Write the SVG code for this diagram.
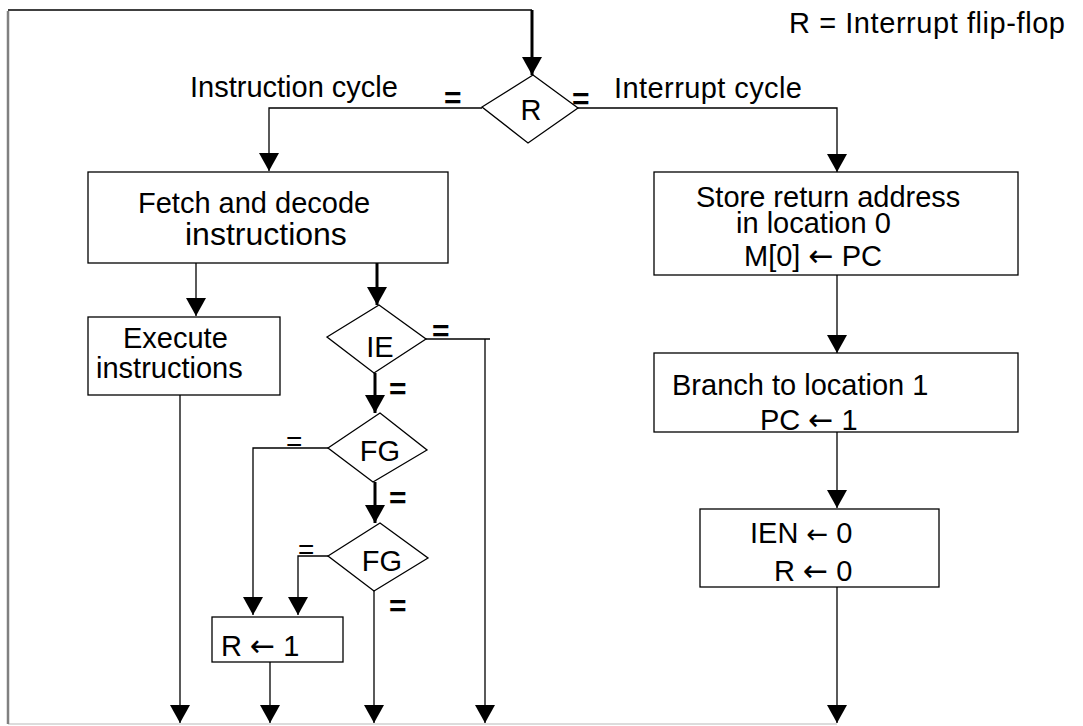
<svg xmlns="http://www.w3.org/2000/svg" width="1083" height="726" viewBox="0 0 1083 726">
<style>
text{font-family:"Liberation Sans",Arial,sans-serif;font-size:29px;fill:#000}
.arr{font-family:"DejaVu Sans",sans-serif;font-size:30px}
.box{fill:#fff;stroke:#000;stroke-width:1.3}
.ln{fill:none;stroke:#000;stroke-width:1.3}
.thick{fill:none;stroke:#000;stroke-width:3}
.eq{font-size:30px;font-weight:bold}
.eqr{font-size:28px}
</style>
<defs>
<marker id="ah" viewBox="0 0 18 20" refX="18" refY="10" markerWidth="18" markerHeight="20" orient="auto" markerUnits="userSpaceOnUse">
<path d="M0,0 L18,10 L0,20 z" fill="#000"/>
</marker>
</defs>
<rect width="1083" height="726" fill="#fff"/>
<g id="connectors">
<path d="M837,724 H8" fill="none" stroke="#d0d0d0" stroke-width="1.5"/>
<path d="M8,724 V11" fill="none" stroke="#808080" stroke-width="2.5"/>
<path class="ln" d="M8,10 H532"/>
<path class="thick" d="M532,10 V75" marker-end="url(#ah)"/>
<path class="ln" d="M482,108 H269 V171" marker-end="url(#ah)"/>
<path class="ln" d="M578,108 H837 V172" marker-end="url(#ah)"/>
<path class="ln" d="M196,263 V316" marker-end="url(#ah)"/>
<path class="thick" d="M377,263 V305" marker-end="url(#ah)"/>
<path class="ln" d="M180,395 V723" marker-end="url(#ah)"/>
<path class="ln" d="M426,339 H490"/>
<path class="ln" d="M485,339 V723" marker-end="url(#ah)"/>
<path class="thick" d="M375,373 V413" marker-end="url(#ah)"/>
<path class="ln" d="M328,448 H253 V615" marker-end="url(#ah)"/>
<path class="thick" d="M375,482 V523" marker-end="url(#ah)"/>
<path class="ln" d="M328,556 H298 V615" marker-end="url(#ah)"/>
<path class="ln" d="M374,591 V723" marker-end="url(#ah)"/>
<path class="ln" d="M270,662 V723" marker-end="url(#ah)"/>
<path class="ln" d="M837,275 V353" marker-end="url(#ah)"/>
<path class="ln" d="M837,432 V508" marker-end="url(#ah)"/>
<path class="ln" d="M837,587 V723" marker-end="url(#ah)"/>
<text class="eq" x="444" y="108">=</text>
<text class="eq" x="572" y="109">=</text>
<text class="eq" x="432" y="341">=</text>
<text class="eq" x="389" y="399">=</text>
<text class="eqr" x="286" y="451">=</text>
<text class="eq" x="389" y="508">=</text>
<text class="eqr" x="298" y="559">=</text>
<text class="eq" x="389" y="616">=</text>
<text x="190" y="97">Instruction cycle</text>
<text x="614" y="98" textLength="188">Interrupt cycle</text>
</g>
<g id="legend">
<text x="789" y="33" textLength="276">R = Interrupt flip-flop</text>
</g>
<g id="nodeR">
<polygon class="box" points="533,75 578,108 528,143 482,107"/>
<text x="531" y="120" text-anchor="middle">R</text>
</g>
<g id="fetch">
<rect class="box" x="88" y="172" width="360" height="91"/>
<text x="138" y="213">Fetch and decode</text>
<text x="185" y="245" style="font-size:32px">instructions</text>
</g>
<g id="execute">
<rect class="box" x="88" y="317" width="192" height="78"/>
<text x="123" y="348">Execute</text>
<text x="96" y="378">instructions</text>
</g>
<g id="nodeIE">
<polygon class="box" points="379,305 426,339 374,373 327,337"/>
<text x="380" y="357" text-anchor="middle">IE</text>
</g>
<g id="nodeFG1">
<polygon class="box" points="380,413 427,450 373,482 328,448"/>
<text x="380" y="461" text-anchor="middle">FG</text>
</g>
<g id="nodeFG2">
<polygon class="box" points="380,523 428,558 374,591 328,556"/>
<text x="382" y="571" text-anchor="middle">FG</text>
</g>
<g id="setR">
<rect class="box" x="212" y="617" width="131" height="45"/>
<text x="221" y="656">R <tspan class="arr">←</tspan> 1</text>
</g>
<g id="store">
<rect class="box" x="654" y="172" width="364" height="103"/>
<text x="696" y="207">Store return address</text>
<text x="736" y="233">in location 0</text>
<text x="744" y="266">M[0] <tspan class="arr">←</tspan> PC</text>
</g>
<g id="branch">
<rect class="box" x="654" y="353" width="364" height="79"/>
<text x="672" y="395">Branch to location 1</text>
<text x="760" y="430">PC <tspan class="arr">←</tspan> 1</text>
</g>
<g id="clear">
<rect class="box" x="700" y="509" width="239" height="78"/>
<text x="750" y="543">IEN <tspan class="arr" style="font-size:26px">←</tspan> 0</text>
<text x="774" y="581">R <tspan class="arr">←</tspan> 0</text>
</g>
</svg>
